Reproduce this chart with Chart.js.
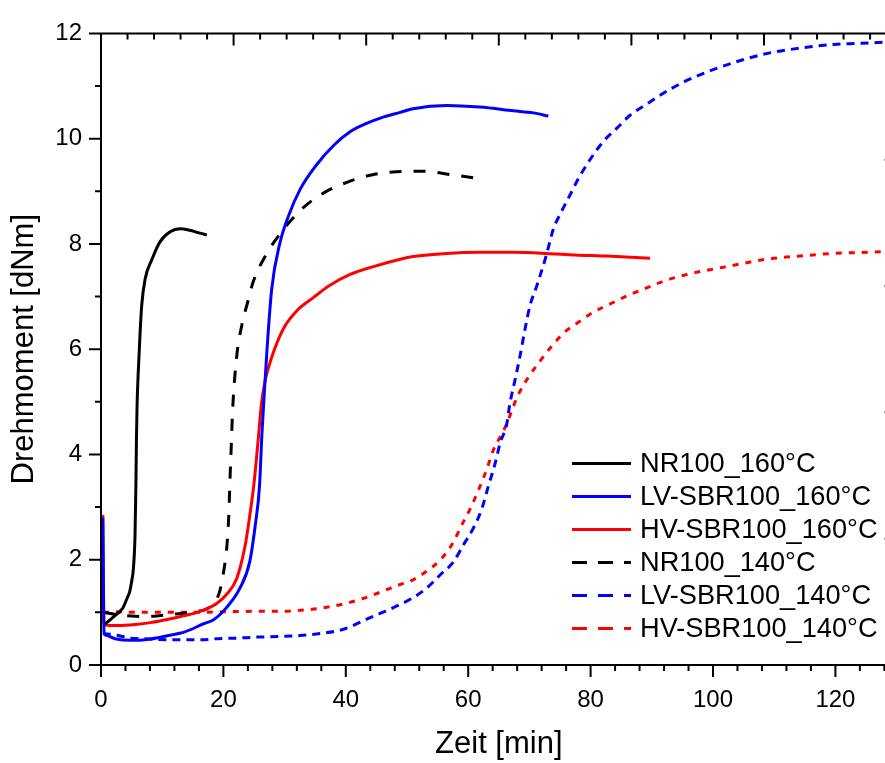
<!DOCTYPE html>
<html>
<head>
<meta charset="utf-8">
<script src="https://cdn.jsdelivr.net/npm/chart.js@4.4.1/dist/chart.umd.min.js"></script>
<style>
  html, body { margin: 0; padding: 0; background: #ffffff; overflow: hidden; }
  #wrap { width: 900px; height: 763px; }
</style>
</head>
<body>
<div id="wrap"><canvas id="cure" width="900" height="763"></canvas></div>
<script>
// Vulkameterkurven: Drehmoment über Zeit für NR, LV-SBR und HV-SBR bei 160 °C und 140 °C

const seriesLabels = ['NR100_160°C', 'LV-SBR100_160°C', 'HV-SBR100_160°C',
                      'NR100_140°C', 'LV-SBR100_140°C', 'HV-SBR100_140°C'];

// Zeit [min] / Drehmoment [dNm]
const nr160Time   = [0.65, 1.5, 2.3, 3.0, 3.6, 4.2, 4.7, 5.0, 5.3, 5.56, 5.7, 5.8, 5.9, 6.1, 6.37, 6.65, 7.2, 8.3, 9.64, 11.3, 12.9, 14.5, 16.0, 17.3];
const nr160Torque = [0.78, 0.86, 0.94, 1.01, 1.09, 1.25, 1.40, 1.58, 1.84, 2.47, 3.4, 4.34, 4.96, 5.6, 6.27, 6.83, 7.33, 7.7, 8.04, 8.23, 8.29, 8.26, 8.21, 8.17];

const lv160Time   = [0.3, 0.5, 0.7, 2.3, 4.9, 7.2, 11, 13.7, 16.7, 18.4, 20.5, 22.7, 24.3, 25.2, 25.9, 26.3, 26.6, 27.1, 27.9, 29.2, 30.7, 32.6, 35.2, 38, 40.7, 43.4, 46.1, 48.9, 51, 56.5, 61.9, 67.4, 70.6, 73.1];
const lv160Torque = [2.8, 0.62, 0.57, 0.50, 0.47, 0.48, 0.56, 0.63, 0.78, 0.86, 1.09, 1.46, 1.96, 2.65, 3.4, 4.4, 5.0, 5.95, 7.15, 8.0, 8.55, 9.05, 9.5, 9.87, 10.13, 10.29, 10.41, 10.5, 10.57, 10.63, 10.6, 10.53, 10.49, 10.43];

const hv160Time   = [0.3, 0.45, 0.7, 2.8, 5.6, 8.3, 11, 13.7, 16.2, 18.9, 20.5, 22.2, 23.6, 24.2, 25.0, 25.7, 26.2, 26.8, 27.3, 28.2, 29.8, 32, 34.7, 37.2, 40.7, 44.5, 48.9, 51, 56.5, 61.9, 67.4, 72.8, 77.5, 82.6, 89.7];
const hv160Torque = [2.85, 0.85, 0.76, 0.75, 0.77, 0.81, 0.87, 0.94, 1.02, 1.17, 1.34, 1.65, 2.3, 2.75, 3.45, 4.3, 4.95, 5.39, 5.62, 5.95, 6.39, 6.73, 6.98, 7.2, 7.42, 7.57, 7.71, 7.76, 7.82, 7.84, 7.84, 7.82, 7.79, 7.77, 7.73];

const nr140Time   = [0.4, 1.5, 3.1, 5, 7, 9, 11.3, 13.2, 15.5, 17, 18.6, 19.4, 20, 20.6, 20.9, 21.1, 21.3, 21.5, 22.2, 23, 24.1, 24.9, 27.1, 29.5, 32.5, 36.1, 40.4, 44.2, 48.3, 52.7, 57, 61.9];
const nr140Torque = [1.0, 0.98, 0.95, 0.93, 0.92, 0.93, 0.96, 0.98, 1.02, 1.05, 1.2, 1.4, 1.75, 2.3, 2.9, 3.6, 4.2, 4.83, 5.89, 6.45, 6.95, 7.29, 7.82, 8.23, 8.63, 8.95, 9.18, 9.31, 9.37, 9.38, 9.32, 9.24];

const lv140Time   = [0.3, 2.4, 4.9, 6.7, 11.8, 16.5, 19, 22, 25.5, 28.9, 32.5, 36, 39, 41, 43, 45.6, 48.9, 51, 53.2, 55.4, 57.6, 59.2, 60.8, 62.2, 63.3, 64.4, 65.2, 66.3, 66.8, 67.6, 68.5, 69.3, 70.1, 71.2, 72.8, 73.9, 75, 76.6, 78, 79.9, 82.1, 84.3, 86.4, 89.2, 93, 96, 100, 104.9, 109.3, 114.2, 119.7, 123.5, 127.8, 130];
const lv140Torque = [0.6, 0.57, 0.51, 0.5, 0.48, 0.48, 0.5, 0.51, 0.53, 0.54, 0.56, 0.6, 0.66, 0.74, 0.85, 0.98, 1.15, 1.28, 1.46, 1.71, 1.96, 2.28, 2.59, 2.96, 3.4, 3.83, 4.21, 4.58, 4.96, 5.39, 5.89, 6.39, 6.83, 7.2, 7.8, 8.28, 8.56, 8.92, 9.24, 9.6, 9.95, 10.2, 10.44, 10.66, 10.94, 11.12, 11.31, 11.5, 11.63, 11.72, 11.79, 11.81, 11.83, 11.84];

const hv140Time   = [0.3, 2, 5, 10, 15, 20, 25, 29.2, 32.5, 36, 40, 43, 46, 48.9, 50.5, 53.2, 55.7, 57.6, 58.9, 60.3, 61.7, 63, 64.1, 65.2, 66.3, 67.1, 68.2, 69.8, 71.7, 73.6, 75.8, 78, 80.4, 83.2, 85.9, 88.6, 91.9, 95.7, 100, 103.6, 108.8, 114.2, 119.7, 125.1, 130];
const hv140Torque = [1.0, 1.01, 1.0, 1.0, 1.0, 1.01, 1.02, 1.02, 1.04, 1.08, 1.17, 1.27, 1.4, 1.53, 1.59, 1.78, 2.03, 2.34, 2.65, 2.96, 3.33, 3.71, 4.08, 4.33, 4.58, 4.83, 5.14, 5.46, 5.77, 6.05, 6.33, 6.51, 6.7, 6.86, 7.01, 7.14, 7.29, 7.42, 7.52, 7.6, 7.71, 7.77, 7.82, 7.84, 7.86];

// Achsen
const X_MAX = 130;
const X_MAJOR = 20, X_MINOR = 4;
const X_LAST_LABEL = 120;
const Y_MAX = 12;
const Y_MAJOR = 2, Y_MINOR = 1;
const TOP_DIVISIONS = 6, TOP_SUBDIVISIONS = 5;   // obere Rahmenachse
const RIGHT_DIVISIONS = 5;                       // rechte Rahmenachse

const FONT = '"Liberation Sans", Arial, Helvetica, sans-serif';

function toPoints(t, v) { return t.map((x, i) => ({ x: x, y: v[i] })); }

function series(label, t, v, color, dash) {
  return {
    label: label,
    data: toPoints(t, v),
    borderColor: color,
    backgroundColor: color,
    borderWidth: 3,
    borderDash: dash,
    pointRadius: 0,
    pointHoverRadius: 0,
    cubicInterpolationMode: 'monotone',
    fill: false
  };
}

const datasets = [
  series(seriesLabels[0], nr160Time, nr160Torque, '#000000', []),
  series(seriesLabels[1], lv160Time, lv160Torque, '#0000ff', []),
  series(seriesLabels[2], hv160Time, hv160Torque, '#ff0000', []),
  series(seriesLabels[3], nr140Time, nr140Torque, '#000000', [12, 12]),
  series(seriesLabels[4], lv140Time, lv140Torque, '#0000ff', [8, 6]),
  series(seriesLabels[5], hv140Time, hv140Torque, '#ff0000', [6, 7])
];

// Rahmen mit Haupt- und Nebenstrichen auf allen vier Seiten
const framePlugin = {
  id: 'frame',
  afterDatasetsDraw(chart) {
    const { ctx, chartArea: a, scales: { x, y } } = chart;
    ctx.save();
    ctx.strokeStyle = '#000';
    ctx.lineWidth = 2;
    ctx.setLineDash([]);
    ctx.beginPath();
    // Achslinien
    ctx.moveTo(a.left - 1, a.bottom); ctx.lineTo(a.right + 1, a.bottom);
    ctx.moveTo(a.left - 1, a.top);    ctx.lineTo(a.right + 1, a.top);
    ctx.moveTo(a.left, a.top - 1);    ctx.lineTo(a.left, a.bottom + 1);
    ctx.moveTo(a.right, a.top - 1);   ctx.lineTo(a.right, a.bottom + 1);
    // unten, nach außen
    for (let v = 0; v <= X_MAX + 1e-9; v += X_MINOR) {
      const px = x.getPixelForValue(v);
      const len = (Math.abs(v % X_MAJOR) < 1e-9) ? 12 : 6;
      ctx.moveTo(px, a.bottom); ctx.lineTo(px, a.bottom + len);
    }
    // links, nach außen
    for (let v = 0; v <= Y_MAX + 1e-9; v += Y_MINOR) {
      const py = y.getPixelForValue(v);
      const len = (Math.abs(v % Y_MAJOR) < 1e-9) ? 12 : 6;
      ctx.moveTo(a.left - len, py); ctx.lineTo(a.left, py);
    }
    // oben, nach innen
    const nTop = TOP_DIVISIONS * TOP_SUBDIVISIONS;
    for (let i = 0; i <= nTop; i++) {
      const px = x.getPixelForValue(X_MAX * i / nTop);
      const len = (i % TOP_SUBDIVISIONS === 0) ? 12 : 6;
      ctx.moveTo(px, a.top); ctx.lineTo(px, a.top + len);
    }
    // rechts, nach innen
    for (let i = 0; i <= RIGHT_DIVISIONS; i++) {
      const py = y.getPixelForValue(Y_MAX * i / RIGHT_DIVISIONS);
      ctx.moveTo(a.right - 12, py); ctx.lineTo(a.right, py);
    }
    ctx.stroke();
    ctx.restore();
  }
};

// Legende unten rechts im Diagramm
const legendPlugin = {
  id: 'curveLegend',
  afterDraw(chart, args, opts) {
    const ctx = chart.ctx;
    ctx.save();
    chart.data.datasets.forEach((ds, i) => {
      const yy = opts.top + i * opts.rowGap;
      ctx.beginPath();
      ctx.strokeStyle = ds.borderColor;
      ctx.lineWidth = ds.borderWidth;
      ctx.setLineDash(ds.borderDash && ds.borderDash.length ? opts.dash : []);
      ctx.moveTo(opts.left, yy);
      ctx.lineTo(opts.left + opts.lineLength, yy);
      ctx.stroke();
      ctx.setLineDash([]);
      ctx.fillStyle = '#000';
      ctx.font = opts.fontSize + 'px ' + FONT;
      ctx.textAlign = 'left';
      ctx.textBaseline = 'middle';
      ctx.fillText(ds.label, opts.left + opts.lineLength + opts.textGap, yy + 1);
    });
    ctx.restore();
  }
};

new Chart(document.getElementById('cure'), {
  type: 'line',
  data: { datasets: datasets },
  plugins: [framePlugin, legendPlugin],
  options: {
    responsive: false,
    animation: false,
    devicePixelRatio: 1,
    layout: { padding: { top: 23.3, right: 3.4, left: 0, bottom: 0 } },
    plugins: {
      legend: { display: false },
      tooltip: { enabled: false },
      curveLegend: { left: 572, top: 463.5, rowGap: 33, lineLength: 59, textGap: 9, dash: [15, 11], fontSize: 27.2 }
    },
    scales: {
      x: {
        type: 'linear',
        position: 'bottom',
        min: 0,
        max: X_MAX,
        grid: { display: false, drawTicks: false },
        border: { display: false },
        ticks: {
          stepSize: X_MAJOR,
          includeBounds: false,
          padding: 21,
          autoSkip: false,
          maxRotation: 0,
          color: '#000',
          font: { family: FONT, size: 24 }
        },
        afterBuildTicks: s => { s.ticks = s.ticks.filter(t => t.value <= X_LAST_LABEL + 0.5); },
        afterFit: s => { s.height = 98; },
        title: {
          display: true,
          text: 'Zeit [min]',
          color: '#000',
          font: { family: FONT, size: 31 },
          padding: { top: 0, bottom: 0 }
        }
      },
      y: {
        type: 'linear',
        position: 'left',
        min: 0,
        max: Y_MAX,
        grid: { display: false, drawTicks: false },
        border: { display: false },
        ticks: {
          stepSize: Y_MAJOR,
          padding: 19,
          color: '#000',
          font: { family: FONT, size: 24 }
        },
        afterFit: s => { s.width = 101; },
        title: {
          display: true,
          text: 'Drehmoment [dNm]',
          color: '#000',
          font: { family: FONT, size: 31 },
          padding: { top: 6, bottom: 0 }
        }
      }
    }
  }
});
</script>
</body>
</html>
